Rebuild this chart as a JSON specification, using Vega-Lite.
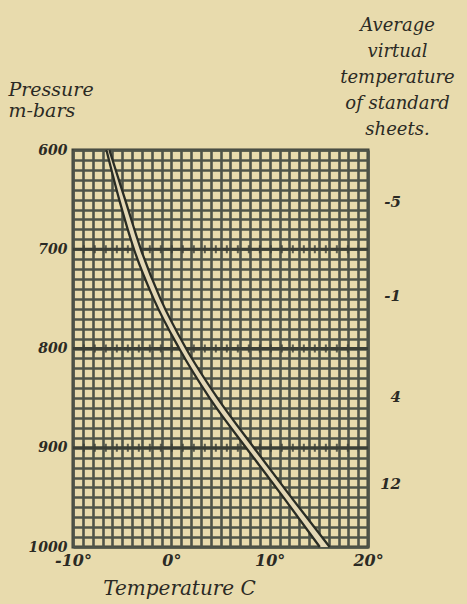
{
  "$schema": "https://vega.github.io/schema/vega-lite/v6.json",
  "width": 295,
  "height": 397,
  "autosize": {"type": "none"},
  "padding": {"left": 73, "top": 150, "right": 99, "bottom": 57},
  "background": "#e8dbad",
  "config": {
    "view": {"stroke": "#3b3f36", "strokeWidth": 3, "fill": "#e8dbad"},
    "font": "DejaVu Serif"
  },
  "datasets": {
    "curves": [
      {"series": "A", "p": 600, "t": -6.6},
      {"series": "A", "p": 650, "t": -5.3},
      {"series": "A", "p": 700, "t": -3.8},
      {"series": "A", "p": 750, "t": -1.8},
      {"series": "A", "p": 800, "t": 0.8},
      {"series": "A", "p": 850, "t": 3.9},
      {"series": "A", "p": 900, "t": 7.6},
      {"series": "A", "p": 950, "t": 11.4},
      {"series": "A", "p": 1000, "t": 15.1},
      {"series": "B", "p": 600, "t": -6.3},
      {"series": "B", "p": 650, "t": -4.7},
      {"series": "B", "p": 700, "t": -3.1},
      {"series": "B", "p": 750, "t": -1.1},
      {"series": "B", "p": 800, "t": 1.5},
      {"series": "B", "p": 850, "t": 4.7},
      {"series": "B", "p": 900, "t": 8.4},
      {"series": "B", "p": 950, "t": 12.2},
      {"series": "B", "p": 1000, "t": 16.1}
    ],
    "levels": [{"p": 700}, {"p": 800}, {"p": 900}],
    "averages": [
      {"p": 652, "label": "-5"},
      {"p": 747, "label": "-1"},
      {"p": 849, "label": "4"},
      {"p": 937, "label": "12"}
    ]
  },
  "layer": [
    {
      "layer": [
        {
          "data": {"name": "curves"},
          "mark": {"type": "line", "color": "#2a2d25", "strokeWidth": 2.2, "interpolate": "monotone", "opacity": 0},
          "encoding": {
            "x": {
              "field": "t",
              "type": "quantitative",
              "scale": {"domain": [-10, 20], "nice": false, "zero": false},
              "axis": {
                "values": [-10,-9,-8,-7,-6,-5,-4,-3,-2,-1,0,1,2,3,4,5,6,7,8,9,10,11,12,13,14,15,16,17,18,19,20],
                "tickCount": 31,
                "labelExpr": "datum.value % 10 === 0 ? datum.value + '°' : ''",
                "labelFont": "DejaVu Serif",
                "labelFontStyle": "italic",
                "labelFontWeight": "bold",
                "labelFontSize": 16,
                "labelColor": "#2b2a24",
                "labelPadding": 5,
                "labelOverlap": false,
                "labelBound": false,
                "labelFlush": false,
                "ticks": false,
                "domain": false,
                "grid": true,
                "gridColor": "#4f5449",
                "gridWidth": 2.6,
                "gridOpacity": 1,
                "title": "Temperature C",
                "titleX": 106,
                "titleY": 47,
                "titleAlign": "center",
                "titleBaseline": "alphabetic",
                "titleFont": "DejaVu Serif",
                "titleFontStyle": "italic",
                "titleFontWeight": "normal",
                "titleFontSize": 20,
                "titleColor": "#2b2a24"
              }
            },
            "y": {
              "field": "p",
              "type": "quantitative",
              "scale": {"domain": [600, 1000], "reverse": true, "nice": false, "zero": false},
              "axis": {
                "values": [600,610,620,630,640,650,660,670,680,690,700,710,720,730,740,750,760,770,780,790,800,810,820,830,840,850,860,870,880,890,900,910,920,930,940,950,960,970,980,990,1000],
                "tickCount": 41,
                "labelExpr": "datum.value % 100 === 0 ? datum.label : ''",
                "labelFont": "DejaVu Serif",
                "labelFontStyle": "italic",
                "labelFontWeight": "bold",
                "labelFontSize": 14,
                "labelColor": "#2b2a24",
                "labelPadding": 6,
                "labelOverlap": false,
                "labelBound": false,
                "labelFlush": false,
                "ticks": false,
                "domain": false,
                "grid": true,
                "gridColor": "#4f5449",
                "gridWidth": 2.6,
                "gridOpacity": 1,
                "format": "d",
                "title": ["Pressure", "m-bars"],
                "titleAngle": 0,
                "titleAlign": "left",
                "titleBaseline": "alphabetic",
                "titleX": -65,
                "titleY": -55,
                "titleFont": "DejaVu Serif",
                "titleFontStyle": "italic",
                "titleFontWeight": "normal",
                "titleFontSize": 19,
                "titleLineHeight": 21,
                "titleColor": "#2b2a24"
              }
            }
          }
        },
        {
          "data": {"name": "levels"},
          "mark": {"type": "rule", "color": "#3b3f36", "strokeWidth": 3},
          "encoding": {
            "y": {"field": "p", "type": "quantitative"},
            "x": {"datum": -10},
            "x2": {"datum": 20}
          }
        },
        {
          "data": {"name": "levels"},
          "mark": {"type": "rule", "color": "#3b3f36", "strokeWidth": 8, "strokeDash": [2, 9], "opacity": 0.8},
          "encoding": {
            "y": {"field": "p", "type": "quantitative"},
            "x": {"datum": -9},
            "x2": {"datum": 19}
          }
        },
        {
          "data": {"name": "curves"},
          "transform": [{"pivot": "series", "value": "t", "groupby": ["p"]}],
          "mark": {"type": "area", "color": "#e4d8b6", "orient": "horizontal", "interpolate": "monotone"},
          "encoding": {
            "y": {"field": "p", "type": "quantitative"},
            "x": {"field": "A", "type": "quantitative"},
            "x2": {"field": "B"}
          }
        },
        {
          "data": {"name": "curves"},
          "mark": {"type": "line", "color": "#2a2d25", "strokeWidth": 2.3, "interpolate": "monotone"},
          "encoding": {
            "x": {"field": "t", "type": "quantitative"},
            "y": {"field": "p", "type": "quantitative"},
            "detail": {"field": "series"},
            "order": {"field": "p"}
          }
        }
      ]
    },
    {
      "data": {"name": "averages"},
      "mark": {"type": "text", "align": "right", "dx": 33, "font": "DejaVu Serif", "fontStyle": "italic", "fontWeight": "bold", "fontSize": 15, "color": "#2b2a24", "baseline": "middle"},
      "encoding": {
        "y": {
          "field": "p",
          "type": "quantitative",
          "scale": {"domain": [600, 1000], "reverse": true, "nice": false, "zero": false},
          "axis": {
            "orient": "right",
            "labels": false,
            "ticks": false,
            "domain": false,
            "grid": false,
            "title": ["Average", "virtual", "temperature", "of standard", "sheets."],
            "titleAngle": 0,
            "titleAlign": "center",
            "titleBaseline": "alphabetic",
            "titleX": 29,
            "titleY": -120,
            "titleFont": "DejaVu Serif",
            "titleFontStyle": "italic",
            "titleFontWeight": "normal",
            "titleFontSize": 18,
            "titleLineHeight": 26,
            "titleColor": "#2b2a24"
          }
        },
        "x": {"datum": 20, "type": "quantitative"},
        "text": {"field": "label"}
      }
    }
  ],
  "resolve": {"scale": {"y": "independent"}, "axis": {"y": "independent"}}
}
